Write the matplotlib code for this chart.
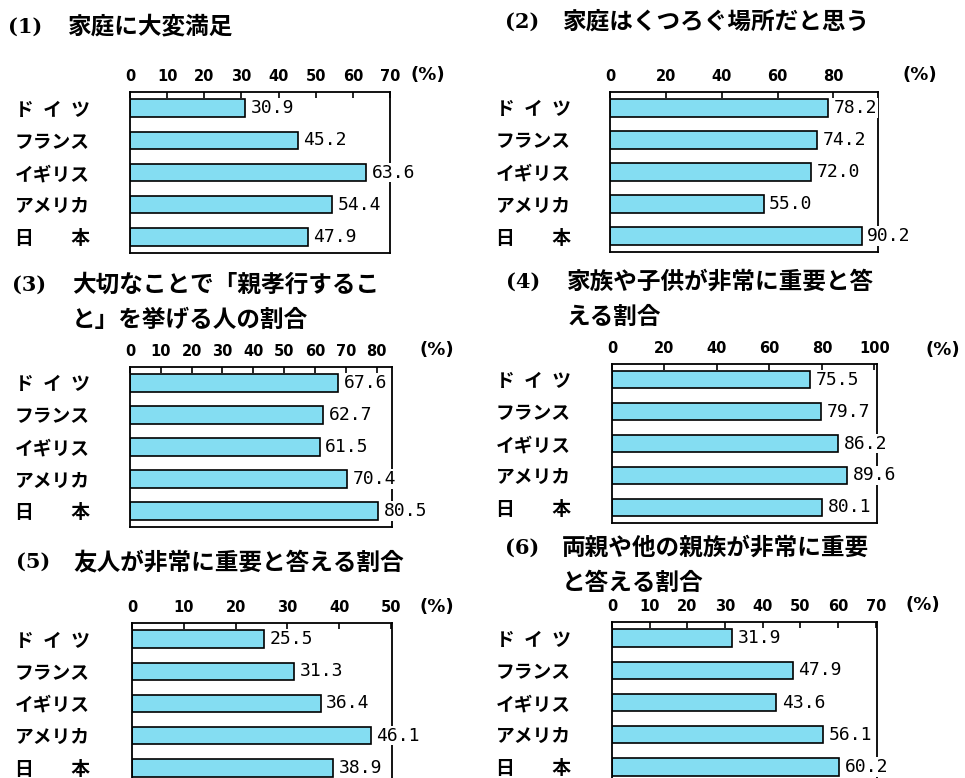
import matplotlib
matplotlib.use("Agg")
import matplotlib.pyplot as plt

plt.rcParams['font.family'] = ['Noto Sans CJK JP', 'DejaVu Sans']

countries = ["ド\u2002イ\u2002ツ", "フランス", "イギリス", "アメリカ", "日\u3000\u3000本"]

v1 = [30.9, 45.2, 63.6, 54.4, 47.9]
v2 = [78.2, 74.2, 72.0, 55.0, 90.2]
v3 = [67.6, 62.7, 61.5, 70.4, 80.5]
v4 = [75.5, 79.7, 86.2, 89.6, 80.1]
v5 = [25.5, 31.3, 36.4, 46.1, 38.9]
v6 = [31.9, 47.9, 43.6, 56.1, 60.2]

ticks1 = [0, 10, 20, 30, 40, 50, 60, 70]
ticks2 = [0, 20, 40, 60, 80]
ticks3 = [0, 10, 20, 30, 40, 50, 60, 70, 80]
ticks4 = [0, 20, 40, 60, 80, 100]
ticks5 = [0, 10, 20, 30, 40, 50]
ticks6 = [0, 10, 20, 30, 40, 50, 60, 70]

titles = [
    ("(1)", ["家庭に大変満足"]),
    ("(2)", ["家庭はくつろぐ場所だと思う"]),
    ("(3)", ["大切なことで「親孝行するこ", "と」を挙げる人の割合"]),
    ("(4)", ["家族や子供が非常に重要と答", "える割合"]),
    ("(5)", ["友人が非常に重要と答える割合"]),
    ("(6)", ["両親や他の親族が非常に重要", "と答える割合"]),
]

W, H = 965, 778
fig = plt.figure(figsize=(W / 100, H / 100), dpi=100)
fig.patch.set_facecolor('white')

BAR_COLOR = '#84DDF2'

# layout in pixels: left, right, top, bottom, xmax, label x
layouts = [
    (130, 390, 92, 253, 70, 15),
    (610, 878, 92, 252, 96, 496),
    (130, 392, 367, 527, 85, 15),
    (612, 877, 364, 523, 101, 496),
    (132, 392, 623, 784, 50.2, 15),
    (612, 877, 622, 783, 70.3, 496),
]
title_pos = [
    (8, 68, 27),
    (505, 563, 22),
    (12, 72, 285),
    (506, 567, 282),
    (16, 73, 562),
    (505, 562, 548),
]
pct_pos = [(428, 75), (920, 75), (437, 350), (943, 350), (437, 607), (923, 605)]

values = [v1, v2, v3, v4, v5, v6]
ticks = [ticks1, ticks2, ticks3, ticks4, ticks5, ticks6]


def px(x, y):
    return x / W, 1 - y / H


for i in range(6):
    l, r, t, b, xmax, lx = layouts[i]
    ax = fig.add_axes([l / W, 1 - b / H, (r - l) / W, (b - t) / H])
    ypos = list(range(len(countries)))
    ax.barh(ypos, values[i], height=0.54, color=BAR_COLOR,
            edgecolor='black', linewidth=1.2, zorder=2)
    ax.set_xlim(0, xmax)
    ax.set_ylim(4.5, -0.5)
    ax.set_yticks(ypos)
    ax.set_yticklabels(countries, fontsize=13.5, fontweight='bold', ha='left')
    ax.tick_params(axis='y', length=0, pad=(l - lx) * 0.72)
    ax.xaxis.tick_top()
    ax.set_xticks(ticks[i])
    ax.set_xticklabels([str(v) for v in ticks[i]], fontsize=10.5,
                       fontweight='bold', family='DejaVu Sans')
    ax.tick_params(axis='x', direction='in', length=4, width=1.2, pad=6)
    for s in ax.spines.values():
        s.set_linewidth(1.3)
        s.set_zorder(2.5)
    for yy, v in zip(ypos, values[i]):
        ax.annotate(f"{v:.1f}", (v, yy), xytext=(4, 0), textcoords='offset points',
                    va='center', ha='left', fontsize=13,
                    family='DejaVu Sans Mono', annotation_clip=False, zorder=4,
                    bbox=dict(facecolor='white', edgecolor='none', pad=0.5))
    # titles
    nx, tx, ty = title_pos[i]
    num, lines = titles[i]
    fig.text(*px(nx, ty), num, fontsize=15, fontweight='bold',
             family='DejaVu Serif', va='center', ha='left')
    for k, line in enumerate(lines):
        fig.text(*px(tx, ty + k * 35), line, fontsize=17, fontweight='bold',
                 va='center', ha='left')
    fig.text(*px(*pct_pos[i]), "(%)", fontsize=13, fontweight='bold',
             family='DejaVu Sans', va='center', ha='center')

fig.savefig('out.png', dpi=100, facecolor='white')
